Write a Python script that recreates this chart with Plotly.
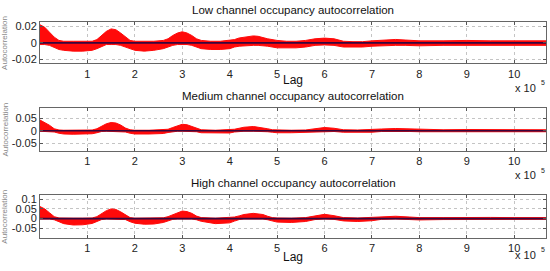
import plotly.graph_objects as go

# ---------------- data (lag in units of 1e5) ----------------
titles = ["Low channel occupancy autocorrelation",
          "Medium channel occupancy autocorrelation",
          "High channel occupancy autocorrelation"]

lag_low = [0.0, 0.1, 0.2, 0.3, 0.4, 0.5, 0.7, 0.9, 1.1, 1.2, 1.3, 1.4, 1.5, 1.6, 1.7, 1.8, 1.9,
           2.0, 2.2, 2.4, 2.6, 2.7, 2.8, 2.9, 3.0, 3.1, 3.2, 3.3, 3.4, 3.6, 3.8, 4.0, 4.1, 4.2,
           4.4, 4.5, 4.6, 4.8, 5.0, 5.2, 5.4, 5.6, 5.8, 6.0, 6.2, 6.4, 6.6, 6.8, 7.0, 7.3, 7.5,
           7.7, 8.0, 8.5, 9.0, 9.5, 10.0, 10.67]
up_low = [0.022, 0.019, 0.013, 0.007, 0.003, 0.002, 0.002, 0.002, 0.002, 0.004, 0.009, 0.014,
          0.017, 0.016, 0.012, 0.007, 0.003, 0.002, 0.002, 0.002, 0.003, 0.005, 0.009, 0.012,
          0.0135, 0.012, 0.009, 0.005, 0.003, 0.002, 0.002, 0.003, 0.004, 0.006, 0.008, 0.0085,
          0.008, 0.005, 0.003, 0.002, 0.002, 0.003, 0.005, 0.0058, 0.005, 0.002, 0.0015, 0.0015,
          0.0025, 0.0035, 0.0042, 0.0035, 0.0025, 0.0025, 0.003, 0.0025, 0.0025, 0.0025]
lo_low = [-0.002, -0.002, -0.003, -0.006, -0.008, -0.009, -0.010, -0.010, -0.009, -0.007,
          -0.004, -0.002, -0.002, -0.002, -0.003, -0.005, -0.007, -0.009, -0.010, -0.009,
          -0.007, -0.005, -0.003, -0.002, -0.002, -0.002, -0.003, -0.005, -0.007, -0.008,
          -0.008, -0.007, -0.005, -0.004, -0.003, -0.003, -0.003, -0.004, -0.006, -0.006,
          -0.006, -0.005, -0.003, -0.0025, -0.003, -0.005, -0.005, -0.005, -0.004, -0.003,
          -0.003, -0.003, -0.0035, -0.003, -0.003, -0.003, -0.003, -0.003]

lag_med = [0.0, 0.1, 0.2, 0.3, 0.4, 0.5, 0.7, 0.9, 1.1, 1.2, 1.3, 1.4, 1.5, 1.6, 1.7, 1.8, 1.9,
           2.0, 2.3, 2.6, 2.7, 2.8, 2.9, 3.0, 3.1, 3.2, 3.3, 3.4, 3.7, 4.0, 4.1, 4.2, 4.3, 4.5,
           4.7, 4.8, 4.9, 5.0, 5.3, 5.6, 5.8, 6.0, 6.2, 6.4, 6.7, 7.0, 7.2, 7.5, 7.8, 8.0, 8.5,
           9.0, 9.5, 10.0, 10.67]
up_med = [0.043, 0.034, 0.022, 0.008, 0.003, 0.002, 0.002, 0.002, 0.003, 0.008, 0.018, 0.028,
          0.033, 0.031, 0.023, 0.011, 0.004, 0.002, 0.002, 0.003, 0.006, 0.013, 0.021, 0.026,
          0.024, 0.018, 0.009, 0.004, 0.002, 0.003, 0.006, 0.010, 0.014, 0.017, 0.013, 0.008,
          0.004, 0.003, 0.002, 0.003, 0.009, 0.013, 0.010, 0.004, 0.003, 0.004, 0.007, 0.009,
          0.007, 0.005, 0.004, 0.005, 0.004, 0.004, 0.004]
lo_med = [-0.002, -0.002, -0.002, -0.005, -0.010, -0.013, -0.014, -0.014, -0.012, -0.008,
          -0.003, -0.002, -0.002, -0.002, -0.002, -0.005, -0.010, -0.013, -0.013, -0.011,
          -0.007, -0.003, -0.002, -0.002, -0.002, -0.002, -0.004, -0.008, -0.010, -0.009,
          -0.005, -0.003, -0.002, -0.002, -0.002, -0.004, -0.006, -0.008, -0.008, -0.006,
          -0.003, -0.002, -0.003, -0.006, -0.007, -0.006, -0.003, -0.002, -0.003, -0.004,
          -0.004, -0.003, -0.004, -0.004, -0.004]

lag_high = [0.0, 0.1, 0.2, 0.3, 0.4, 0.5, 0.7, 0.9, 1.1, 1.2, 1.3, 1.4, 1.5, 1.6, 1.7, 1.8,
            1.9, 2.0, 2.2, 2.4, 2.6, 2.7, 2.8, 2.9, 3.0, 3.1, 3.2, 3.3, 3.4, 3.7, 4.0, 4.1, 4.2,
            4.3, 4.5, 4.7, 4.8, 4.9, 5.0, 5.3, 5.6, 5.8, 6.0, 6.2, 6.4, 6.7, 7.0, 7.2, 7.5,
            7.8, 8.0, 8.5, 9.0, 9.5, 10.0, 10.67]
up_high = [0.062, 0.050, 0.030, 0.010, 0.003, 0.002, 0.002, 0.002, 0.003, 0.010, 0.026, 0.041,
           0.050, 0.047, 0.035, 0.018, 0.005, 0.002, 0.002, 0.002, 0.004, 0.010, 0.021, 0.032,
           0.039, 0.036, 0.027, 0.013, 0.005, 0.002, 0.004, 0.008, 0.014, 0.021, 0.027, 0.021,
           0.012, 0.005, 0.003, 0.002, 0.005, 0.014, 0.022, 0.015, 0.005, 0.003, 0.005, 0.009,
           0.012, 0.008, 0.005, 0.005, 0.007, 0.006, 0.005, 0.005]
lo_high = [-0.002, -0.002, -0.002, -0.006, -0.018, -0.026, -0.033, -0.032, -0.025, -0.016,
           -0.005, -0.002, -0.002, -0.002, -0.002, -0.005, -0.016, -0.024, -0.029, -0.028,
           -0.020, -0.012, -0.004, -0.002, -0.002, -0.002, -0.002, -0.006, -0.014, -0.026,
           -0.022, -0.013, -0.005, -0.002, -0.002, -0.002, -0.006, -0.013, -0.018, -0.020,
           -0.015, -0.005, -0.002, -0.004, -0.012, -0.015, -0.011, -0.004, -0.002, -0.005,
           -0.007, -0.005, -0.004, -0.005, -0.004, -0.004]

x_ticks = [1, 2, 3, 4, 5, 6, 7, 8, 9, 10]
y_ticks = [[-0.02, 0, 0.02], [-0.05, 0, 0.05], [-0.05, 0, 0.05, 0.1]]
y_ranges = [[-0.025, 0.025], [-0.08, 0.09], [-0.1, 0.12]]
x_max = 10.67

series = [(lag_low, up_low, lo_low), (lag_med, up_med, lo_med), (lag_high, up_high, lo_high)]

# ---------------- layout ----------------
W, H = 550, 271
L, R = 40, 4
PW = W - L - R
domains = [[0.7657, 0.9177], [0.4439, 0.6004], [0.1218, 0.2793]]
RED = "#ff0a0a"
BASE = "#35063f"
font = "Arial, Liberation Sans, Helvetica, sans-serif"


def px_x(p):
    return (p - L) / PW


def px_y(p):
    return 1 - p / H


fig = go.Figure()
layout = dict(template="none", width=W, height=H, margin=dict(l=L, r=R, t=0, b=0, pad=0),
              paper_bgcolor="white", plot_bgcolor="white", showlegend=False,
              font=dict(family=font, size=11, color="#222"), hovermode=False)
annotations = []
lag_off = [16.5, 0, 19]
exp_off = [24.5, 24.5, 17]
for i, (lag, up, lo) in enumerate(series):
    xa = "x" if i == 0 else f"x{i+1}"
    ya = "y" if i == 0 else f"y{i+1}"
    fig.add_trace(go.Scatter(x=lag, y=up, xaxis=xa, yaxis=ya, mode="lines",
                             line=dict(color=RED, width=1), fill="tozeroy", fillcolor=RED,
                             hoverinfo="skip"))
    fig.add_trace(go.Scatter(x=lag, y=lo, xaxis=xa, yaxis=ya, mode="lines",
                             line=dict(color=RED, width=1), fill="tozeroy", fillcolor=RED,
                             hoverinfo="skip"))
    fig.add_trace(go.Scatter(x=[0, x_max], y=[0, 0], xaxis=xa, yaxis=ya, mode="lines",
                             line=dict(color=BASE, width=1.6), hoverinfo="skip"))
    xk = "xaxis" if i == 0 else f"xaxis{i+1}"
    yk = "yaxis" if i == 0 else f"yaxis{i+1}"
    common = dict(ticks="inside", ticklen=3, tickcolor="#555", showline=True,
                  linecolor="#666", linewidth=1, mirror="ticks", showgrid=True,
                  gridcolor="#c4c4c4", griddash="dot", gridwidth=1, zeroline=False,
                  tickfont=dict(size=11, family=font, color="#222"), automargin=False)
    layout[xk] = dict(domain=[0, 1], range=[0, x_max], anchor=ya, tickvals=x_ticks,
                      ticktext=[str(t) for t in x_ticks], **common)
    layout[yk] = dict(domain=domains[i], range=y_ranges[i], anchor=xa, tickvals=y_ticks[i],
                      ticktext=[("%g" % t) for t in y_ticks[i]], **common)
    top = H * (1 - domains[i][1])
    bot = H * (1 - domains[i][0])
    annotations.append(dict(text=titles[i], xref="paper", yref="paper", x=0.5,
                            y=px_y(top - 12.5), xanchor="center", yanchor="middle",
                            showarrow=False, font=dict(size=11.5, color="#111", family=font)))
    annotations.append(dict(text="Autocorrelation", xref="paper", yref="paper",
                            x=px_x(5), y=px_y((top + bot) / 2), xanchor="center",
                            yanchor="middle", textangle=-90, showarrow=False,
                            font=dict(size=8, color="#888", family=font)))
    annotations.append(dict(text="x 10", xref="paper", yref="paper", x=px_x(538),
                            y=px_y(bot + exp_off[i]), xanchor="right", yanchor="middle",
                            showarrow=False, font=dict(size=11, color="#222", family=font)))
    annotations.append(dict(text="5", xref="paper", yref="paper", x=px_x(539),
                            y=px_y(bot + exp_off[i] - 5), xanchor="left", yanchor="middle",
                            showarrow=False, font=dict(size=7, color="#222", family=font)))
    if i != 1:
        annotations.append(dict(text="Lag", xref="paper", yref="paper", x=0.5,
                                y=px_y(bot + lag_off[i]), xanchor="center", yanchor="middle",
                                showarrow=False, font=dict(size=12, color="#111", family=font)))
layout["annotations"] = annotations
fig.update_layout(**layout)
fig.write_html("out.html", config={"displayModeBar": False, "staticPlot": True},
               post_script="document.body.style.margin='0px';document.body.style.overflow='hidden';")
